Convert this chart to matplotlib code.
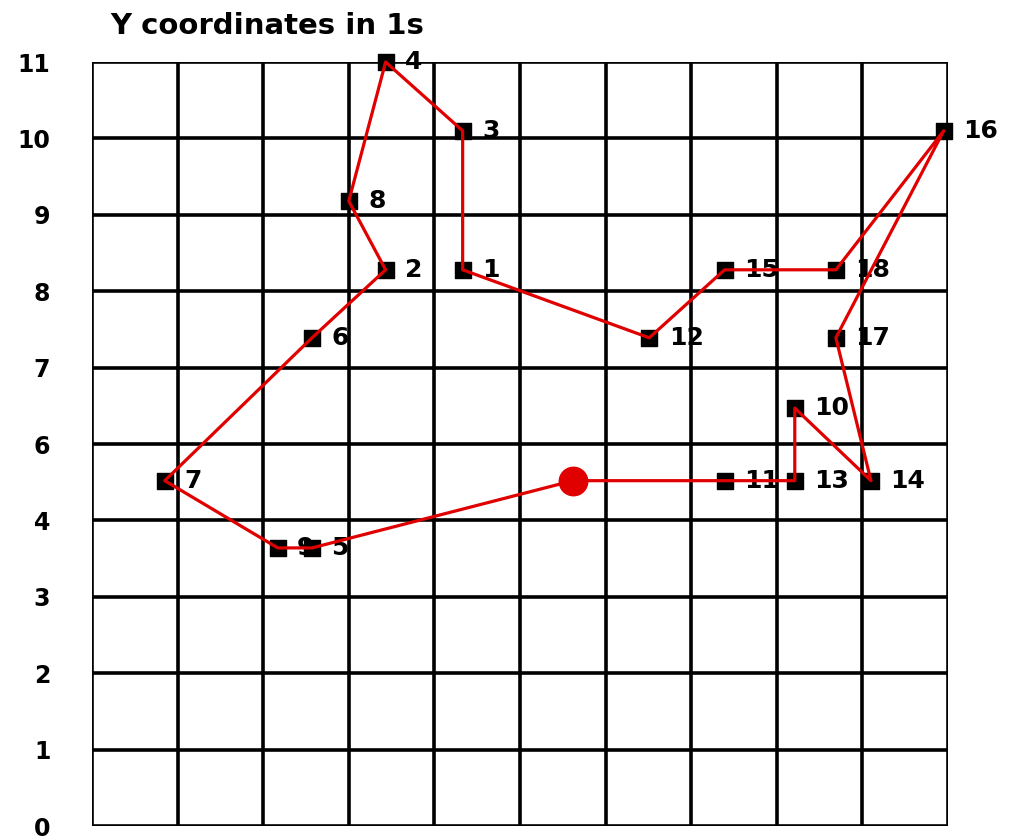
import matplotlib.pyplot as plt

plt.rcParams['font.family'] = ['DejaVu Sans']

# grid positions (in cell units) of the points, in the order they are visited
labels = ['', '11', '13', '10', '14', '17', '16', '18', '15', '12',
          '1', '3', '4', '8', '2', '6', '7', '9', '5']
xs = [5.62, 7.39, 8.21, 8.21, 9.10, 8.69, 9.95, 8.69, 7.39, 6.51,
      4.33, 4.33, 3.43, 3.00, 3.43, 2.57, 0.85, 2.17, 2.57]
ys = [4.52, 4.52, 4.52, 5.47, 4.52, 6.39, 9.10, 7.28, 7.28, 6.39,
      7.28, 9.10, 10.0, 8.18, 7.28, 6.39, 4.52, 3.64, 3.64]

ytick_pos = list(range(11))
ytick_labels = ['0', '1', '2', '3', '4', '6', '7', '8', '9', '10', '11']

fig = plt.figure(figsize=(10.09, 8.39), dpi=100)
ax = fig.add_axes([92 / 1009, 13 / 839, 856 / 1009, 764 / 839])
ax.set_xlim(0, 10)
ax.set_ylim(0, 10)

# grid
for i in range(11):
    ax.axvline(i, color='black', lw=2.6, zorder=2)
    ax.axhline(i, color='black', lw=2.6, zorder=2)
for s in ax.spines.values():
    s.set_visible(False)

ax.set_xticks([])
ax.set_yticks(ytick_pos)
ax.set_yticklabels(ytick_labels, fontsize=17, fontweight='bold')
ax.tick_params(axis='y', length=0, pad=30)

# point markers and labels
ax.scatter(xs[1:], ys[1:], marker='s', s=140, color='black', zorder=3,
           clip_on=False)
for x, y, lab in zip(xs[1:], ys[1:], labels[1:]):
    ax.annotate(lab, (x, y), xytext=(14, 0), textcoords='offset points',
                va='center', ha='left', fontsize=18, fontweight='bold',
                zorder=1)

# path (closed loop back to the start)
ax.plot(xs + xs[:1], ys + ys[:1], color='#e00000', lw=2.3, zorder=4,
        clip_on=False)
ax.scatter(xs[:1], ys[:1], marker='o', s=420, color='#e00000', zorder=5)

fig.text(110 / 1009, 1 - 34 / 839, 'Y coordinates in 1s', fontsize=21,
         fontweight='bold', va='baseline', ha='left')

fig.savefig('out.png', dpi=100)
